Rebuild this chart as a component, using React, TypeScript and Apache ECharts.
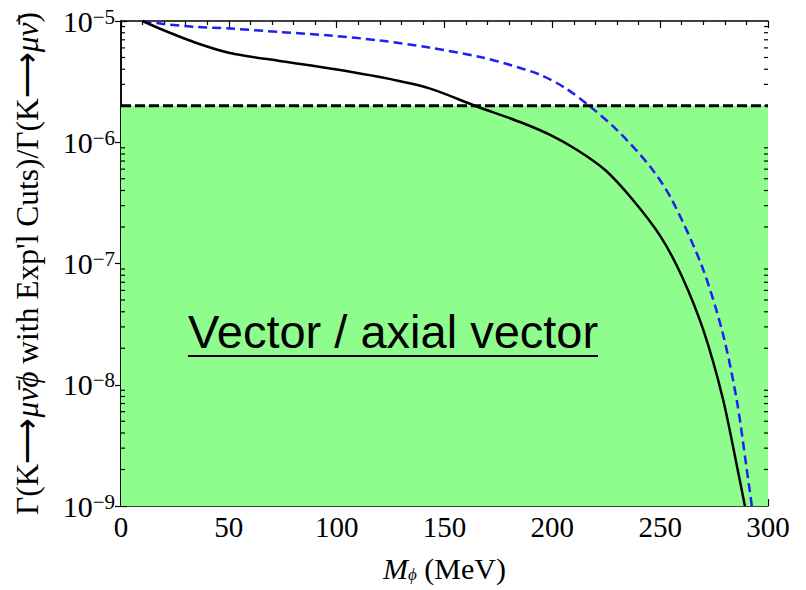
import React, { useEffect, useRef } from "react";
import * as echarts from "echarts";

// ---- data ----
const xMin = 0;
const xMax = 300;
const xInterval = 50;
const yMin = 1e-9;
const yMax = 1e-5;
const yExponents = [-9, -8, -7, -6, -5];
const yMinorMultipliers = [2, 3, 4, 5, 6, 7, 8, 9];

// experimental limit (horizontal dashed line / top of green region)
const limitValue = 2e-6;

// vector / axial vector (solid black)
const solidMass = [10, 19.5, 35, 50.5, 73.5, 97, 120, 143, 165, 185, 199, 211.5, 224.5, 237, 250, 260, 270, 279, 285.5, 289.3];
const solidRate = [1e-5, 8.43e-6, 6.59e-6, 5.45e-6, 4.68e-6, 4.06e-6, 3.45e-6, 2.78e-6, 1.97e-6, 1.47e-6, 1.15e-6, 8.63e-7, 5.9e-7, 3.4e-7, 1.69e-7, 7.89e-8, 2.83e-8, 7.78e-9, 2.18e-9, 1e-9];

// dashed blue
const dashedMass = [10, 19.5, 35, 50.5, 73.5, 97, 120, 143, 166.5, 180.5, 194.5, 206, 217.5, 230, 245.5, 255.5, 269.5, 279, 285.5, 290, 292.5];
const dashedRate = [1e-5, 9.45e-6, 8.93e-6, 8.67e-6, 8.11e-6, 7.59e-6, 6.91e-6, 6.04e-6, 5.05e-6, 4.34e-6, 3.59e-6, 2.8e-6, 1.97e-6, 1.26e-6, 6.25e-7, 3.34e-7, 9.36e-8, 2.67e-8, 7.48e-9, 2.1e-9, 1e-9];

const annotation = "Vector / axial vector";

const SERIF = "'Liberation Serif', 'Times New Roman', serif";
const SANS = "'Liberation Sans', Arial, sans-serif";

export default function App() {
  const ref = useRef<HTMLDivElement>(null);

  useEffect(() => {
    if (!ref.current) return;
    const chart = echarts.init(ref.current, null, { renderer: "svg" });

    const minorTickValues: number[] = [];
    yExponents.slice(0, -1).forEach((e) => {
      yMinorMultipliers.forEach((m) => minorTickValues.push(m * Math.pow(10, e)));
    });

    const axisLine = { show: true, lineStyle: { color: "#000", width: 1.5 } };
    const majorTick = { show: true, inside: true, length: 7, lineStyle: { color: "#000", width: 1.2 } };
    const minorTick = { show: true, splitNumber: 5, length: 4, lineStyle: { color: "#000", width: 1.2 } };

    const option: any = {
      animation: false,
      backgroundColor: "#fff",
      grid: { left: 121, top: 21, right: 38, bottom: 84, containLabel: false },
      xAxis: [
        {
          type: "value",
          position: "bottom",
          min: xMin,
          max: xMax,
          interval: xInterval,
          axisLine,
          axisTick: majorTick,
          minorTick,
          splitLine: { show: false },
          axisLabel: { color: "#000", fontFamily: SERIF, fontSize: 29, margin: 6 },
          name: "{i|M}{sub|\u03D5}{r| (MeV)}",
          nameLocation: "middle",
          nameGap: 47,
          nameTextStyle: {
            rich: {
              i: { fontFamily: SERIF, fontStyle: "italic", fontSize: 30, lineHeight: 30, color: "#000" },
              sub: { fontFamily: SERIF, fontStyle: "italic", fontSize: 17, lineHeight: 10, verticalAlign: "bottom", color: "#000" },
              r: { fontFamily: SERIF, fontSize: 30, lineHeight: 30, color: "#000" },
            },
          },
        },
        {
          type: "value",
          position: "top",
          min: xMin,
          max: xMax,
          interval: xInterval,
          axisLine,
          axisTick: majorTick,
          minorTick,
          splitLine: { show: false },
          axisLabel: { show: false },
        },
      ],
      yAxis: [
        {
          type: "log",
          logBase: 10,
          position: "left",
          min: yMin,
          max: yMax,
          axisLine,
          axisTick: { ...majorTick, length: 6 },
          splitLine: { show: false },
          axisLabel: {
            margin: 6,
            formatter: (v: number) => {
              const e = Math.round(Math.log10(v));
              return `{b|10}{s|${e < 0 ? "\u2212" + -e : e}}`;
            },
            rich: {
              b: { fontFamily: SERIF, fontSize: 30, lineHeight: 30, color: "#000" },
              s: { fontFamily: SERIF, fontSize: 21, lineHeight: 12, verticalAlign: "top", color: "#000" },
            },
          },
          name:
            "{r|\u0393(K\u27F6}{i|\u03BC\u03BD\u0304\u03D5}{r| with Exp'l Cuts)/\u0393(K\u27F6}{i|\u03BC\u03BD\u0304}{r|)}",
          nameLocation: "middle",
          nameRotate: 90,
          nameGap: 78,
          nameTextStyle: {
            rich: {
              r: { fontFamily: SERIF, fontSize: 31.5, lineHeight: 32, color: "#000" },
              i: { fontFamily: SERIF, fontStyle: "italic", fontSize: 31.5, lineHeight: 32, color: "#000" },
            },
          },
        },
        {
          type: "log",
          logBase: 10,
          position: "right",
          min: yMin,
          max: yMax,
          axisLine,
          axisTick: { ...majorTick, length: 6 },
          splitLine: { show: false },
          axisLabel: { show: false },
        },
      ],
      series: [
        {
          type: "line",
          name: "limit",
          xAxisIndex: 0,
          yAxisIndex: 0,
          data: [],
          markArea: {
            silent: true,
            itemStyle: { color: "#8ffc8e", opacity: 1 },
            data: [[{ xAxis: xMin, yAxis: yMin }, { xAxis: xMax, yAxis: limitValue }]],
          },
          z: 1,
        },
        {
          type: "custom",
          name: "minorTicks",
          xAxisIndex: 0,
          yAxisIndex: 0,
          silent: true,
          clip: false,
          z: 5,
          data: minorTickValues.map((v) => [xMin, v]),
          renderItem: (_params: any, api: any) => {
            const v = api.value(1);
            const l = api.coord([xMin, v]);
            const r = api.coord([xMax, v]);
            const style = { stroke: "#000", lineWidth: 1.2 };
            return {
              type: "group",
              children: [
                { type: "line", shape: { x1: l[0], y1: l[1], x2: l[0] + 4, y2: l[1] }, style },
                { type: "line", shape: { x1: r[0] - 4, y1: r[1], x2: r[0], y2: r[1] }, style },
              ],
            };
          },
        },
        {
          type: "line",
          name: "dashed",
          xAxisIndex: 0,
          yAxisIndex: 0,
          data: dashedMass.map((m, i) => [m, dashedRate[i]]),
          showSymbol: false,
          smooth: 0.3,
          lineStyle: { color: "#1f1ff5", width: 2.5, type: [9, 5] },
          z: 3,
        },
        {
          type: "line",
          name: "solid",
          xAxisIndex: 0,
          yAxisIndex: 0,
          data: solidMass.map((m, i) => [m, solidRate[i]]),
          showSymbol: false,
          smooth: 0.3,
          lineStyle: { color: "#000", width: 2.5 },
          z: 3,
        },
        {
          type: "line",
          name: "limitLine",
          xAxisIndex: 0,
          yAxisIndex: 0,
          data: [
            [xMin, limitValue],
            [xMax, limitValue],
          ],
          showSymbol: false,
          lineStyle: { color: "#000", width: 3, type: [10, 4] },
          z: 4,
        },
      ],
      graphic: [
        {
          type: "text",
          left: 188,
          top: 308,
          style: { text: annotation, fontFamily: SANS, fontSize: 47, fill: "#000" },
          z: 10,
        },
        {
          type: "line",
          shape: { x1: 188, y1: 356, x2: 598, y2: 356 },
          style: { stroke: "#000", lineWidth: 2 },
          z: 10,
        },
      ],
    };

    chart.setOption(option);
    return () => chart.dispose();
  }, []);

  return (
    <div
      ref={ref}
      style={{ position: "absolute", left: 0, top: 0, width: 806, height: 590 }}
    />
  );
}
